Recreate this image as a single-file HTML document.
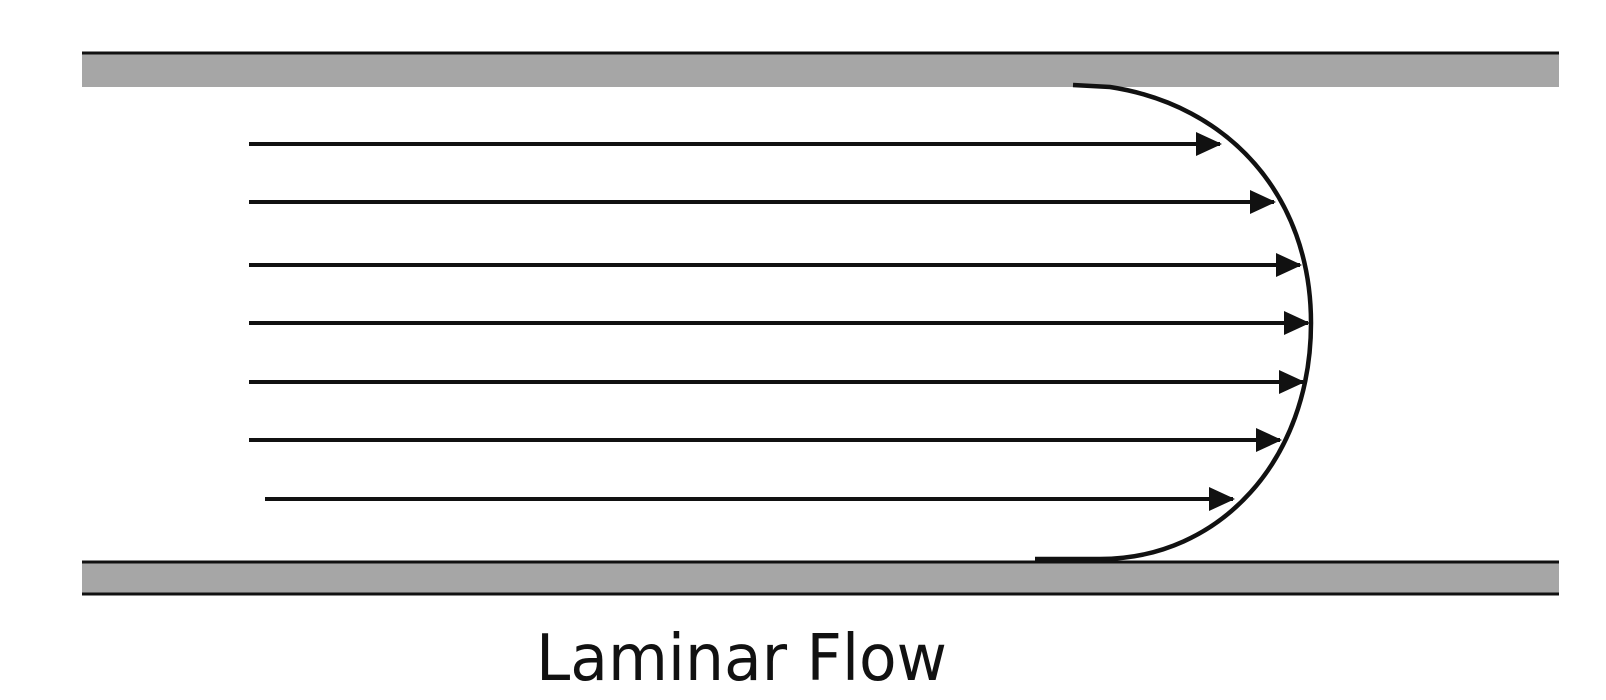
<!DOCTYPE html>
<html><head><style>
html,body{margin:0;padding:0;background:#fff;width:1606px;height:700px;overflow:hidden}
</style></head><body>
<svg width="1606" height="700" viewBox="0 0 1606 700" xmlns="http://www.w3.org/2000/svg">
<defs><marker id="a" markerWidth="26" markerHeight="24" refX="24" refY="12" orient="auto" markerUnits="userSpaceOnUse"><path d="M0,0 L26,12 L0,24 Z" fill="#111"/></marker></defs>
<rect x="82" y="53" width="1477" height="34" fill="#a6a6a6"/>
<line x1="82" y1="53" x2="1559" y2="53" stroke="#111" stroke-width="3"/>
<rect x="82" y="562" width="1477" height="32" fill="#a6a6a6"/>
<line x1="82" y1="562" x2="1559" y2="562" stroke="#111" stroke-width="3"/>
<line x1="82" y1="594" x2="1559" y2="594" stroke="#111" stroke-width="3"/>
<g stroke="#111" stroke-width="4" marker-end="url(#a)">
<line x1="249" y1="144" x2="1220" y2="144"/>
<line x1="249" y1="202" x2="1274" y2="202"/>
<line x1="249" y1="265" x2="1300" y2="265"/>
<line x1="249" y1="323" x2="1308" y2="323"/>
<line x1="249" y1="382" x2="1303" y2="382"/>
<line x1="249" y1="440" x2="1280" y2="440"/>
<line x1="265" y1="499" x2="1233" y2="499"/>
</g>
<path d="M1073,85 L1110,87 C1228,105 1311,195 1311,323 C1311,460 1220,559 1100,559 L1035,559" fill="none" stroke="#111" stroke-width="4.5"/>
<text x="536" y="680" textLength="411" lengthAdjust="spacingAndGlyphs" font-family="DejaVu Sans, sans-serif" font-size="64" fill="#111">Laminar Flow</text>
</svg>
</body></html>
